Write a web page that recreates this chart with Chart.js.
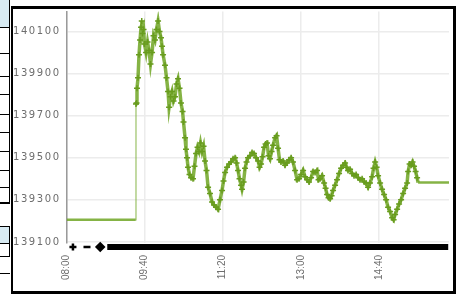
<!DOCTYPE html>
<html>
<head>
<meta charset="utf-8">
<script src="https://cdn.jsdelivr.net/npm/chart.js@4.4.1/dist/chart.umd.min.js"></script>
<style>
  html, body { margin: 0; padding: 0; background: #fff; }
  body { width: 461px; height: 295px; position: relative; overflow: hidden; }
  .blue { position: absolute; left: 0; width: 9px; background: #d8ebf3; }
  .hl { position: absolute; left: 0; width: 10px; height: 1px; background: #000; }
  .vl { position: absolute; left: 9px; width: 1px; background: #000; }
  .edge { position: absolute; background: #000; z-index: 5; }
  .wrap { position: absolute; left: 10px; top: 5px; width: 446px; height: 290px; }
</style>
</head>
<body>
<!-- bits of the neighbouring table on the left -->
<div class="blue" style="top:0;height:27px"></div>
<div class="hl" style="top:27px"></div>
<div class="hl" style="top:53px"></div>
<div class="hl" style="top:76px"></div>
<div class="hl" style="top:94px"></div>
<div class="hl" style="top:114px"></div>
<div class="hl" style="top:132px"></div>
<div class="hl" style="top:151px"></div>
<div class="hl" style="top:170px"></div>
<div class="hl" style="top:187px"></div>
<div class="hl" style="top:202px;height:2px"></div>
<div class="vl" style="top:0;height:204px"></div>
<div class="blue" style="top:227px;height:16px"></div>
<div class="hl" style="top:226px"></div>
<div class="hl" style="top:243px"></div>
<div class="hl" style="top:256px"></div>
<div class="hl" style="top:273px"></div>
<div class="vl" style="top:226px;height:31px"></div>

<div class="wrap"><canvas id="chart" width="446" height="290"></canvas></div>

<!-- frame round the chart box -->
<div class="edge" style="left:11px;top:6px;width:445px;height:3px"></div>
<div class="edge" style="left:11px;top:291px;width:445px;height:3px"></div>
<div class="edge" style="left:11px;top:6px;width:2px;height:288px"></div>
<div class="edge" style="left:453px;top:6px;width:3px;height:288px"></div>

<script>
'use strict';

// --- Data ---
const tickMinutes = [0, 100, 200, 300, 400];
const tickLabels = ['08:00', '09:40', '11:20', '13:00', '14:40'];
const priceTicks = [139100, 139300, 139500, 139700, 139900, 140100];

// minutes after 08:00
const minutes = [
  0, 88.5, 88.8, 89.5, 90.1, 91.4, 92.7, 94.0, 95.3, 96.2,
  97.2, 98.5, 99.7, 101.7, 103.6, 105.5, 107.4, 109.4, 111.3, 113.2,
  115.1, 117.1, 119.0, 120.9, 122.2, 123.5, 126.0, 127.9, 129.9, 131.2,
  133.1, 135.0, 136.9, 138.8, 140.8, 142.7, 144.6, 146.5, 148.5, 149.7,
  151.7, 152.9, 154.2, 155.5, 157.4, 159.4, 161.9, 163.8, 165.8, 167.7,
  169.6, 171.5, 173.5, 175.4, 177.3, 179.2, 181.2, 183.7, 186.3, 188.8,
  191.4, 194.0, 196.5, 199.1, 201.0, 203.0, 205.5, 208.1, 210.6, 213.2,
  215.8, 217.7, 219.6, 221.5, 223.5, 224.7, 226.7, 228.6, 230.5, 232.4,
  235.0, 237.6, 240.1, 242.7, 245.3, 247.2, 249.1, 251.0, 253.0, 254.9,
  256.8, 258.7, 260.6, 262.6, 264.5, 267.1, 269.0, 270.9, 272.8, 274.7,
  277.3, 279.9, 282.4, 285.0, 287.6, 290.1, 292.7, 295.3, 297.8, 300.4,
  303.0, 305.5, 308.1, 310.6, 313.2, 315.8, 318.3, 320.9, 322.8, 324.7,
  327.3, 329.9, 331.8, 333.7, 335.6, 337.6, 339.5, 341.4, 344.0, 346.5,
  349.1, 351.7, 354.2, 356.8, 358.7, 360.6, 363.2, 365.8, 368.3, 370.9,
  373.5, 376.0, 378.6, 381.2, 383.7, 386.3, 388.8, 391.4, 393.3, 395.3,
  397.2, 399.1, 401.7, 404.2, 406.8, 409.4, 411.9, 414.5, 417.1, 419.0,
  420.9, 423.5, 426.0, 428.6, 431.2, 433.7, 436.3, 437.6, 439.5, 441.4,
  443.3, 445.2, 447.2, 449.1, 450.4, 490
];
const prices = [
  139205, 139205, 139755, 139760, 139830, 139880, 139990, 140060, 140120, 140150,
  140090, 140110, 140040, 140000, 140050, 140010, 139945, 140000, 140080, 140060,
  140110, 140150, 140100, 140070, 140030, 139990, 139940, 139880, 139815, 139740,
  139790, 139815, 139770, 139790, 139850, 139875, 139830, 139760, 139720, 139670,
  139595, 139540, 139500, 139455, 139420, 139405, 139400, 139460, 139520, 139550,
  139530, 139570, 139530, 139555, 139485, 139440, 139360, 139330, 139290, 139275,
  139265, 139255, 139300, 139345, 139390, 139430, 139455, 139470, 139480, 139495,
  139500, 139475, 139440, 139400, 139370, 139350, 139385, 139450, 139480, 139500,
  139510, 139525, 139520, 139500, 139485, 139455, 139470, 139505, 139550, 139565,
  139570, 139510, 139495, 139530, 139560, 139595, 139605, 139545, 139490, 139480,
  139485, 139465, 139475, 139490, 139500, 139480, 139440, 139395, 139400, 139420,
  139440, 139410, 139395, 139385, 139405, 139435, 139430, 139440, 139395, 139400,
  139415, 139380, 139355, 139325, 139310, 139305, 139320, 139345, 139370, 139395,
  139425, 139450, 139465, 139475, 139455, 139440, 139445, 139425, 139415, 139420,
  139405, 139395, 139400, 139385, 139380, 139360, 139380, 139410, 139450, 139480,
  139455, 139415, 139380, 139350, 139325, 139300, 139265, 139245, 139215, 139205,
  139230, 139255, 139280, 139300, 139330, 139355, 139380, 139435, 139470, 139465,
  139480, 139460, 139435, 139405, 139382, 139382
];

// black marks under the axis
const markMinutes = [8, 26, 43];
const barMinutes = [52, 489];
const markLevel = 139076;

// --- Wider letter spacing for the price labels ---
const spacedLabels = {
  id: 'spacedLabels',
  beforeDraw(chart) {
    const y = chart.scales.y;
    if (!y || y._spaced) return;
    const draw = y.drawLabels.bind(y);
    y.drawLabels = function (area) {
      chart.ctx.save();
      chart.ctx.letterSpacing = '1.6px';
      draw(area);
      chart.ctx.restore();
    };
    y._spaced = true;
  }
};

const gridColor = '#ececec';
const labelColor = '#6e6e6e';
const last = minutes.length - 1;

new Chart(document.getElementById('chart'), {
  type: 'line',
  data: {
    datasets: [
      {
        data: minutes.map((m, i) => ({ x: m, y: prices[i] })),
        borderColor: 'rgba(112,166,36,0.85)',
        borderWidth: 3.5,
        segment: {
          borderWidth: ctx => ctx.p0DataIndex === 1 ? 1.5 : (ctx.p0DataIndex === 0 || ctx.p1DataIndex === last) ? 2.5 : 3.5,
          borderColor: ctx => ctx.p0DataIndex === 1 ? 'rgba(120,172,50,0.6)' : undefined
        },
        pointStyle: 'cross',
        pointRadius: ctx => (ctx.dataIndex < 2 || ctx.dataIndex >= last - 1) ? 0 : 3,
        pointBorderColor: 'rgb(104,156,30)',
        pointBorderWidth: 1.5,
        pointHoverRadius: 0,
        tension: 0
      },
      {
        data: markMinutes.map(m => ({ x: m, y: markLevel })),
        showLine: false,
        pointStyle: ['cross', 'line', 'rectRot'],
        pointRadius: 3.5,
        pointBorderWidth: 2.5,
        pointBorderColor: '#000',
        pointBackgroundColor: '#000',
        clip: false
      },
      {
        data: barMinutes.map(m => ({ x: m, y: markLevel })),
        borderColor: '#000',
        borderWidth: 6,
        pointRadius: 0,
        clip: false
      }
    ]
  },
  options: {
    responsive: false,
    animation: false,
    layout: { padding: { top: 4, right: 7, left: 0, bottom: 0 } },
    plugins: { legend: { display: false }, tooltip: { enabled: false } },
    scales: {
      x: {
        type: 'linear',
        min: 0,
        max: 490,
        afterBuildTicks: s => { s.ticks = tickMinutes.map(v => ({ value: v })); },
        afterFit: s => { s.height = 52; },
        grid: { color: gridColor, lineWidth: 1.5, drawTicks: false },
        border: { display: false },
        ticks: {
          callback: (v, i) => tickLabels[i],
          minRotation: 90,
          maxRotation: 90,
          autoSkip: false,
          padding: 12,
          color: labelColor,
          font: { family: 'Liberation Sans', size: 10 }
        }
      },
      y: {
        min: 139095,
        max: 140195,
        afterBuildTicks: s => { s.ticks = priceTicks.map(v => ({ value: v })); },
        afterFit: s => { s.width = 56.7; s.paddingTop = 0; s.paddingBottom = 0; },
        grid: { color: gridColor, lineWidth: 1.5, drawTicks: false },
        border: { color: '#9a9a9a', width: 1.5 },
        ticks: {
          callback: v => String(v),
          padding: 6,
          color: labelColor,
          font: { family: 'DejaVu Sans', size: 10 }
        }
      }
    }
  },
  plugins: [spacedLabels]
});
</script>
</body>
</html>
